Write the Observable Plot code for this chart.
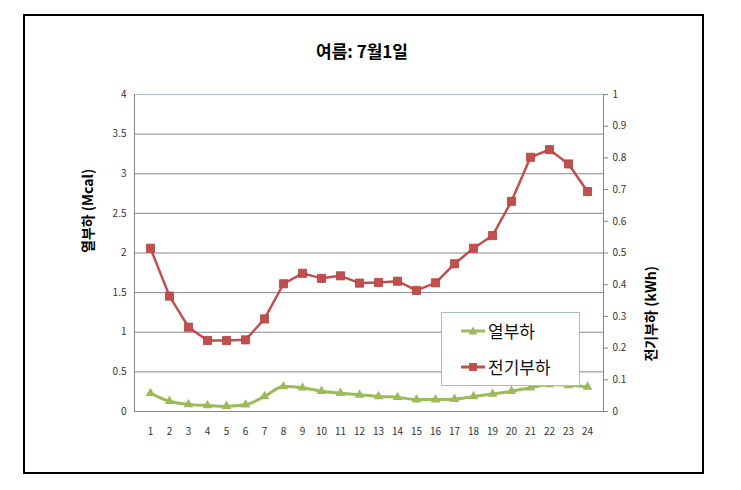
<!DOCTYPE html>
<html>
<head>
<meta charset="utf-8">
<script src="https://cdn.jsdelivr.net/npm/d3@7"></script>
<script src="https://cdn.jsdelivr.net/npm/@observablehq/plot@0.6"></script>
<style>
  html, body { margin: 0; padding: 0; background: #fff; }
  #wrap { position: relative; width: 741px; height: 490px; }
  #border { position: absolute; left: 23px; top: 14px; width: 677px; height: 456px; border: 2px solid #000; box-sizing: content-box; }
  #chart { position: absolute; left: 0; top: 0; }
  #legend { position: absolute; left: 441px; top: 312px; width: 137px; height: 72px; background: #fff; border: 1px solid #a7bccb; font-family: "Noto Sans CJK KR", sans-serif; font-size: 17px; color: #111; }
  .item { position: absolute; left: 19px; display: flex; align-items: center; gap: 3px; line-height: 1; }
</style>
</head>
<body>
<div id="wrap">
  <div id="border"></div>
  <div id="chart"></div>
  <div id="legend">
    <div class="item" style="top:9px"><svg width="24" height="14"><line x1="0" y1="7" x2="24" y2="7" stroke="#9BBB59" stroke-width="3"/><path d="M12,2.5 L16.5,10.5 L7.5,10.5 Z" fill="#9BBB59"/></svg><span>열부하</span></div>
    <div class="item" style="top:45px"><svg width="24" height="14"><line x1="0" y1="7" x2="24" y2="7" stroke="#C0504D" stroke-width="3"/><rect x="8" y="3" width="8" height="8" fill="#C0504D"/></svg><span>전기부하</span></div>
  </div>
</div>
<script>
const hours = d3.range(1, 25);
const heatLoad = [0.23, 0.13, 0.09, 0.076, 0.067, 0.085, 0.19, 0.315, 0.30, 0.256, 0.231, 0.21,
                  0.19, 0.18, 0.15, 0.15, 0.155, 0.19, 0.22, 0.256, 0.30, 0.34, 0.33, 0.31];
const elecLoad = [0.515, 0.364, 0.266, 0.224, 0.224, 0.226, 0.292, 0.403, 0.436, 0.42, 0.428, 0.405,
                  0.407, 0.411, 0.382, 0.406, 0.466, 0.515, 0.555, 0.663, 0.802, 0.826, 0.781, 0.694];
const leftTicks = [0, 0.5, 1, 1.5, 2, 2.5, 3, 3.5, 4];
const rightTicks = [0, 0.1, 0.2, 0.3, 0.4, 0.5, 0.6, 0.7, 0.8, 0.9, 1];
const titleText = "여름: 7월1일";
const leftTitle = "열부하 (Mcal)";
const rightTitle = "전기부하 (kWh)";

const ratio = 4; // right axis max 1 maps to left axis max 4
const heatData = hours.map((h, i) => ({hour: h, v: heatLoad[i]}));
const elecData = hours.map((h, i) => ({hour: h, v: elecLoad[i] * ratio}));

const font = "'Noto Sans CJK KR', sans-serif";

const chart = Plot.plot({
  width: 741,
  height: 490,
  marginLeft: 134,
  marginRight: 138,
  marginTop: 94,
  marginBottom: 79,
  style: {fontFamily: font, fontSize: "10px", color: "#333", background: "transparent"},
  x: {type: "point", domain: hours, padding: 0.5, axis: null},
  y: {domain: [0, 4], axis: null},
  marks: [
    Plot.ruleY(leftTicks.filter(d => d > 0 && d < 4), {stroke: "#868686", strokeWidth: 1}),
    Plot.ruleY([4], {stroke: "#a9bfcc", strokeWidth: 1}),
    Plot.ruleY([0], {stroke: "#868686", strokeWidth: 1}),
    Plot.frame({anchor: "left", stroke: "#868686"}),
    Plot.frame({anchor: "right", stroke: "#868686"}),
    Plot.axisY(leftTicks, {anchor: "left", tickSize: 0, tickPadding: 8, label: null, tickFormat: d => String(d)}),
    Plot.axisY(rightTicks.map(d => d * ratio), {anchor: "right", tickSize: 4, tickPadding: 5, stroke: "#868686", label: null,
      tickFormat: d => String(Math.round(d / ratio * 10) / 10)}),
    Plot.axisX({tickSize: 0, tickPadding: 16, label: null}),
    Plot.line(heatData, {x: "hour", y: "v", stroke: "#9BBB59", strokeWidth: 3, curve: "monotone-x"}),
    Plot.dot(heatData, {x: "hour", y: "v", symbol: "triangle", r: 3.6, fill: "#9BBB59", stroke: "none"}),
    Plot.line(elecData, {x: "hour", y: "v", stroke: "#C0504D", strokeWidth: 2.5}),
    Plot.dot(elecData, {x: "hour", y: "v", symbol: "square", r: 4.6, fill: "#C0504D", stroke: "#b0403d", strokeWidth: 0.8}),
    Plot.text([titleText], {frameAnchor: "top", dx: -7, dy: -49, fontSize: 17, fontWeight: "bold", fill: "#000"}),
    Plot.text([leftTitle], {frameAnchor: "left", dx: -46, rotate: -90, fontSize: 14, fontWeight: "bold", fill: "#000"}),
    Plot.text([rightTitle], {frameAnchor: "right", dx: 48, dy: 13, rotate: -90, fontSize: 14, fontWeight: "bold", fill: "#000"})
  ]
});
document.getElementById("chart").appendChild(chart);
</script>
</body>
</html>
